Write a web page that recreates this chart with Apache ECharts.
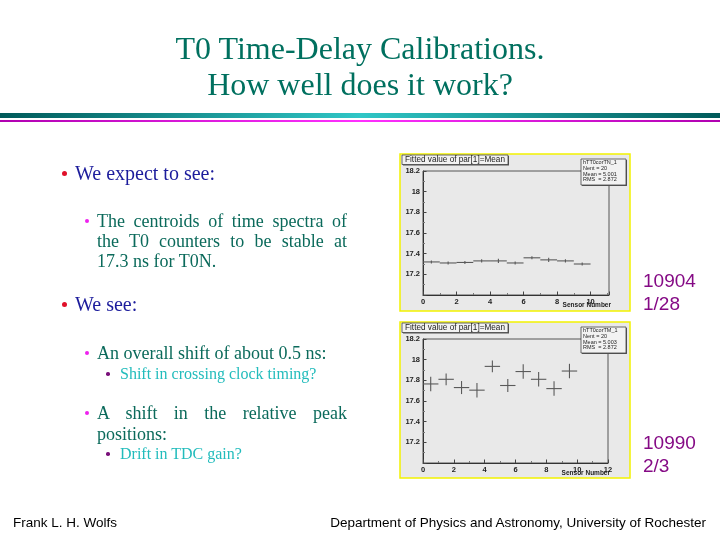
<!DOCTYPE html>
<html>
<head>
<meta charset="utf-8">
<script src="https://cdn.jsdelivr.net/npm/echarts@6/dist/echarts.min.js"></script>
<style>
html, body { margin: 0; padding: 0; width: 720px; height: 540px; overflow: hidden; background: #fff; }
#main { position: absolute; left: 0; top: 0; width: 720px; height: 540px; }
.t { position: absolute; white-space: nowrap; }
.serif { font-family: "Liberation Serif", "Times New Roman", serif; }
.sans { font-family: "Liberation Sans", Arial, sans-serif; }
.j { white-space: normal; text-align: justify; text-align-last: justify; }
.dot { position: absolute; border-radius: 50%; }
</style>
</head>
<body>
<div id="main"></div>

<!-- slide text -->
<div class="t serif" style="left:0;width:720px;text-align:center;top:32px;font-size:32px;line-height:32px;color:#00705f">T0 Time-Delay Calibrations.</div>
<div class="t serif" style="left:0;width:720px;text-align:center;top:68px;font-size:32px;line-height:32px;color:#00705f">How well does it work?</div>
<div style="position:absolute;left:0;top:113px;width:720px;height:5px;background:linear-gradient(to right,#005a5a,#2fc6c6 50%,#005a5a)"></div>
<div style="position:absolute;left:0;top:120px;width:720px;height:2px;background:linear-gradient(to right,#b000b0,#ff30ff 50%,#b000b0)"></div>

<div class="dot" style="left:61.5px;top:170.5px;width:5px;height:5px;background:#e0102a"></div>
<div class="t serif" style="left:75px;top:163px;font-size:20px;line-height:20px;color:#1c1c9c">We expect to see:</div>

<div class="dot" style="left:85px;top:219px;width:4px;height:4px;background:#ee22ee"></div>
<div class="t serif j" style="left:97px;width:250px;top:212px;font-size:18px;line-height:18px;color:#0b6a5b">The centroids of time spectra of</div>
<div class="t serif j" style="left:97px;width:250px;top:232px;font-size:18px;line-height:18px;color:#0b6a5b">the T0 counters to be stable at</div>
<div class="t serif" style="left:97px;top:252px;font-size:18px;line-height:18px;color:#0b6a5b">17.3 ns for T0N.</div>

<div class="dot" style="left:61.5px;top:301.5px;width:5px;height:5px;background:#e0102a"></div>
<div class="t serif" style="left:75px;top:294px;font-size:20px;line-height:20px;color:#1c1c9c">We see:</div>

<div class="dot" style="left:85px;top:351px;width:4px;height:4px;background:#ee22ee"></div>
<div class="t serif" style="left:97px;top:344px;font-size:18px;line-height:18px;color:#0b6a5b">An overall shift of about 0.5 ns:</div>
<div class="dot" style="left:106.25px;top:372.25px;width:3.5px;height:3.5px;background:#7a107a"></div>
<div class="t serif" style="left:120px;top:366px;font-size:16px;line-height:16px;color:#22bcbc">Shift in crossing clock timing?</div>

<div class="dot" style="left:85px;top:411px;width:4px;height:4px;background:#ee22ee"></div>
<div class="t serif j" style="left:97px;width:250px;top:404px;font-size:18px;line-height:18px;color:#0b6a5b">A shift in the relative peak</div>
<div class="t serif" style="left:97px;top:425px;font-size:18px;line-height:18px;color:#0b6a5b">positions:</div>
<div class="dot" style="left:106.25px;top:452.25px;width:3.5px;height:3.5px;background:#7a107a"></div>
<div class="t serif" style="left:120px;top:446px;font-size:16px;line-height:16px;color:#22bcbc">Drift in TDC gain?</div>

<div class="t sans" style="left:643px;top:270.5px;font-size:19px;line-height:19px;color:#850a85">10904</div>
<div class="t sans" style="left:643px;top:293.5px;font-size:19px;line-height:19px;color:#850a85">1/28</div>
<div class="t sans" style="left:643px;top:432.5px;font-size:19px;line-height:19px;color:#850a85">10990</div>
<div class="t sans" style="left:643px;top:455.5px;font-size:19px;line-height:19px;color:#850a85">2/3</div>

<div class="t sans" style="left:13px;top:516px;font-size:13.5px;line-height:13.5px;color:#000">Frank L. H. Wolfs</div>
<div class="t sans" style="right:14px;top:516px;font-size:13.5px;line-height:13.5px;color:#000">Department of Physics and Astronomy, University of Rochester</div>

<script>
// sensor bins, one entry per T0N counter
var binCentres = [0.5, 1.5, 2.5, 3.5, 4.5, 5.5, 6.5, 7.5, 8.5, 9.5];
var binWidth = 1;

// run 10904 (1/28)
var meanRun10904 = [17.32, 17.31, 17.315, 17.33, 17.33, 17.31, 17.36, 17.34, 17.33, 17.30];
var errRun10904 = [0.015, 0.015, 0.015, 0.015, 0.02, 0.015, 0.015, 0.02, 0.015, 0.015];
var statsRun10904 = ['hTT0corTN_1', 'Nent = 20', 'Mean = 5.001', 'RMS  = 2.872'];

// run 10990 (2/3)
var meanRun10990 = [17.765, 17.81, 17.73, 17.705, 17.935, 17.75, 17.885, 17.81, 17.72, 17.89];
var errRun10990 = [0.07, 0.057, 0.063, 0.07, 0.057, 0.063, 0.07, 0.07, 0.07, 0.07];
var statsRun10990 = ['hTT0corTM_1', 'Nent = 20', 'Mean = 5.003', 'RMS  = 2.872'];

var histTitle = 'Fitted value of par[1]=Mean';
var xTitle = 'Sensor Number';

var myChart = echarts.init(document.getElementById('main'));

function toRows(means, errs) {
    return binCentres.map(function (x, i) {
        return [x, means[i], errs[i]];
    });
}

function renderBin(params, api) {
    var x = api.value(0), y = api.value(1), e = api.value(2);
    var a = api.coord([x - binWidth / 2, y]);
    var b = api.coord([x + binWidth / 2, y]);
    var lo = api.coord([x, y - e]);
    var hi = api.coord([x, y + e]);
    var st = { stroke: '#5a5a5a', lineWidth: 1.1 };
    return {
        type: 'group',
        children: [
            { type: 'line', shape: { x1: a[0], y1: a[1], x2: b[0], y2: b[1] }, style: st },
            { type: 'line', shape: { x1: lo[0], y1: lo[1], x2: hi[0], y2: hi[1] }, style: st }
        ]
    };
}

function axisX(idx, max) {
    return {
        gridIndex: idx,
        type: 'value',
        min: 0,
        max: max,
        interval: 2,
        axisLine: { show: true, lineStyle: { color: '#333', width: 1 } },
        axisTick: { show: true, inside: true, length: 3.5, lineStyle: { color: '#444' } },
        minorTick: { show: true, splitNumber: 2, length: 2, lineStyle: { color: '#777' } },
        splitLine: { show: false },
        axisLabel: {
            show: true, margin: 3, fontSize: 7.5, fontWeight: 'bold', color: '#222',
            fontFamily: 'Liberation Sans', showMaxLabel: max % 2 === 0
        }
    };
}

function axisY(idx) {
    return {
        gridIndex: idx,
        type: 'value',
        min: 17.0,
        max: 18.2,
        interval: 0.2,
        axisLine: { show: true, lineStyle: { color: '#333', width: 1 } },
        axisTick: { show: true, inside: true, length: 3.5, lineStyle: { color: '#444' } },
        minorTick: { show: true, splitNumber: 2, length: 2, lineStyle: { color: '#777' } },
        splitLine: { show: false },
        axisLabel: {
            show: true, margin: 3, fontSize: 7.5, fontWeight: 'bold', color: '#222',
            fontFamily: 'Liberation Sans', showMinLabel: false
        }
    };
}

function padGraphics(top, h, frameRight, frameBottom, stats) {
    var g = [];
    g.push({
        type: 'rect', z: -10, shape: { x: 400, y: top, width: 230, height: h },
        style: { fill: '#e9e9e9', stroke: '#f2f200', lineWidth: 1.5 }
    });
    // histogram title box
    g.push({
        type: 'rect', z: 50, shape: { x: 403, y: top + 2, width: 106, height: 9.5 },
        style: { fill: '#555', stroke: null }
    });
    g.push({
        type: 'rect', z: 51, shape: { x: 402, y: top + 1, width: 106, height: 9.5 },
        style: { fill: '#f2f2f2', stroke: '#444', lineWidth: 0.8 }
    });
    g.push({
        type: 'text', z: 52, x: 455, y: top + 6,
        style: {
            text: histTitle, fontSize: 8.2, fontFamily: 'Liberation Sans', fill: '#222',
            align: 'center', verticalAlign: 'middle'
        }
    });
    // stats box
    g.push({
        type: 'rect', z: 50, shape: { x: 582, y: top + 6, width: 45, height: 26 },
        style: { fill: '#555', stroke: null }
    });
    g.push({
        type: 'rect', z: 51, shape: { x: 581, y: top + 5, width: 45, height: 26 },
        style: { fill: '#f2f2f2', stroke: '#444', lineWidth: 0.8 }
    });
    stats.forEach(function (s, i) {
        g.push({
            type: 'text', z: 52, x: 583, y: top + 8.5 + i * 5.8,
            style: {
                text: s, fontSize: 5.5, fontFamily: 'Liberation Sans', fill: '#222',
                align: 'left', verticalAlign: 'middle'
            }
        });
    });
    g.push({
        type: 'text', z: 52, x: frameRight + 2, y: frameBottom + 10,
        style: {
            text: xTitle, fontSize: 6.5, fontWeight: 'bold', fontFamily: 'Liberation Sans',
            fill: '#222', align: 'right', verticalAlign: 'middle'
        }
    });
    return g;
}

var option = {
    animation: false,
    graphic: padGraphics(154, 157, 609, 295, statsRun10904)
        .concat(padGraphics(322, 156, 608, 463, statsRun10990)),
    grid: [
        { left: 423, top: 171, width: 186, height: 124, show: true, backgroundColor: 'transparent', borderColor: '#555', borderWidth: 1 },
        { left: 423, top: 339, width: 185, height: 124, show: true, backgroundColor: 'transparent', borderColor: '#555', borderWidth: 1 }
    ],
    xAxis: [axisX(0, 11.1), axisX(1, 12)],
    yAxis: [axisY(0), axisY(1)],
    series: [
        {
            type: 'custom', xAxisIndex: 0, yAxisIndex: 0,
            renderItem: renderBin, data: toRows(meanRun10904, errRun10904)
        },
        {
            type: 'custom', xAxisIndex: 1, yAxisIndex: 1,
            renderItem: renderBin, data: toRows(meanRun10990, errRun10990)
        }
    ]
};
myChart.setOption(option);
</script>
</body>
</html>
